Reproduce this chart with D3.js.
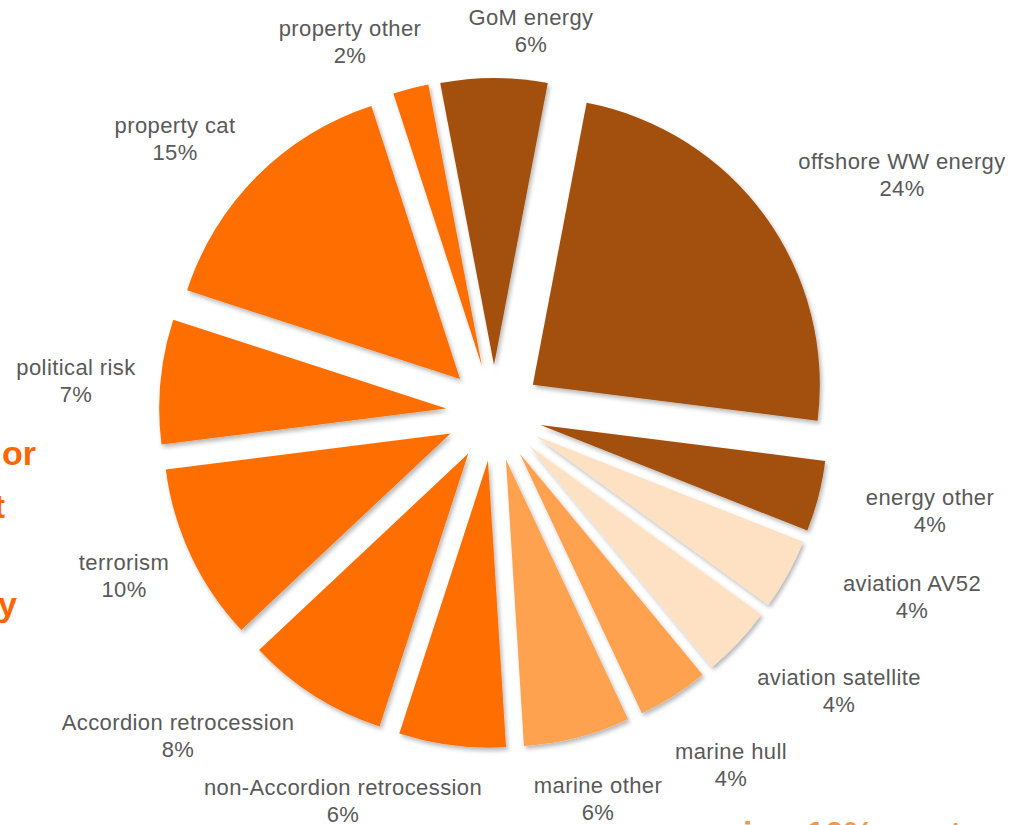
<!DOCTYPE html>
<html>
<head>
<meta charset="utf-8">
<script src="https://cdn.jsdelivr.net/npm/d3@7"></script>
<style>
  html, body { margin: 0; padding: 0; background: #ffffff; }
  svg { display: block; }
</style>
</head>
<body>
<svg id="chart" width="1017" height="825"></svg>
<script>
// Portfolio split by line of business, clockwise from the first slice.
const categories = [
  "offshore WW energy", "energy other", "aviation AV52", "aviation satellite",
  "marine hull", "marine other", "non-Accordion retrocession", "Accordion retrocession",
  "terrorism", "political risk", "property cat", "property other", "GoM energy"
];
const shares = [24, 4, 4, 4, 4, 6, 6, 8, 10, 7, 15, 2, 6];
const groups = [
  "energy", "energy", "aviation", "aviation",
  "marine", "marine", "other", "other",
  "other", "other", "other", "other", "energy"
];

// Label placement (centre x, first baseline y) for each category.
const labelPos = {
  "offshore WW energy": [902, 169],
  "energy other": [930, 505],
  "aviation AV52": [912, 591],
  "aviation satellite": [839, 685],
  "marine hull": [731, 759],
  "marine other": [598, 793],
  "non-Accordion retrocession": [343, 795],
  "Accordion retrocession": [178, 730],
  "terrorism": [124, 570],
  "political risk": [76, 375],
  "property cat": [175, 133],
  "property other": [350, 36],
  "GoM energy": [531, 25]
};

const svg = d3.select("#chart");
const cx = 494, cy = 413, radius = 287, explode = 48;

const color = d3.scaleOrdinal()
  .domain(["energy", "aviation", "marine", "other"])
  .range(["#A34F0B", "#FDE1C2", "#FFA24F", "#FF6E04"]);

// Soft drop shadow under each slice
const defs = svg.append("defs");
const f = defs.append("filter").attr("id", "shadow")
  .attr("x", "-10%").attr("y", "-10%").attr("width", "120%").attr("height", "120%");
f.append("feDropShadow")
  .attr("dx", 2).attr("dy", 3).attr("stdDeviation", 2)
  .attr("flood-color", "#000").attr("flood-opacity", 0.28);

const data = categories.map((c, i) => ({ name: c, value: shares[i], group: groups[i] }));
const total = d3.sum(shares);

// Last slice is centred on 12 o'clock, so the first one starts half of it past the top.
const offset = (shares[shares.length - 1] / total) * Math.PI;
const pie = d3.pie().sort(null).value(d => d.value)
  .startAngle(offset).endAngle(offset + 2 * Math.PI);
const arc = d3.arc().innerRadius(0).outerRadius(radius);

const g = svg.append("g").attr("transform", `translate(${cx},${cy})`);
g.selectAll("path.slice")
  .data(pie(data))
  .join("path")
  .attr("class", "slice")
  .attr("d", arc)
  .attr("fill", d => color(d.data.group))
  .attr("filter", "url(#shadow)")
  .attr("transform", d => {
    const a = (d.startAngle + d.endAngle) / 2;
    return `translate(${explode * Math.sin(a)},${-explode * Math.cos(a)})`;
  });

// Category labels with percentages
const fmt = d3.format(".0%");
const labels = svg.append("g")
  .attr("font-family", "'Liberation Sans', Arial, Helvetica, sans-serif")
  .attr("font-size", 22)
  .attr("letter-spacing", 0.4)
  .attr("fill", "#595959")
  .attr("text-anchor", "middle");

data.forEach(d => {
  const [x, y] = labelPos[d.name];
  const t = labels.append("text").attr("x", x).attr("y", y);
  t.append("tspan").attr("x", x).text(d.name);
  t.append("tspan").attr("x", x).attr("dy", 27).text(fmt(d.value / total));
});

// Slide text running past the edges of the frame
const side = svg.append("g")
  .attr("font-family", "'Liberation Sans', Arial, Helvetica, sans-serif")
  .attr("font-weight", "bold")
  .attr("font-size", 34)
  .attr("fill", "#FF6600")
  .attr("text-anchor", "end");
side.append("text").attr("x", 36).attr("y", 465).text("or");
side.append("text").attr("x", 5).attr("y", 518).text("t");
side.append("text").attr("x", 17).attr("y", 616).text("y");

const bottom = svg.append("g")
  .attr("font-family", "'Liberation Sans', Arial, Helvetica, sans-serif")
  .attr("font-weight", "bold")
  .attr("font-size", 34)
  .attr("fill", "#F79646");
bottom.append("text").attr("x", 743).attr("y", 845).text("i");
bottom.append("text").attr("x", 806).attr("y", 845).text("10%");
bottom.append("text").attr("x", 950).attr("y", 845).text("t");
</script>
</body>
</html>
